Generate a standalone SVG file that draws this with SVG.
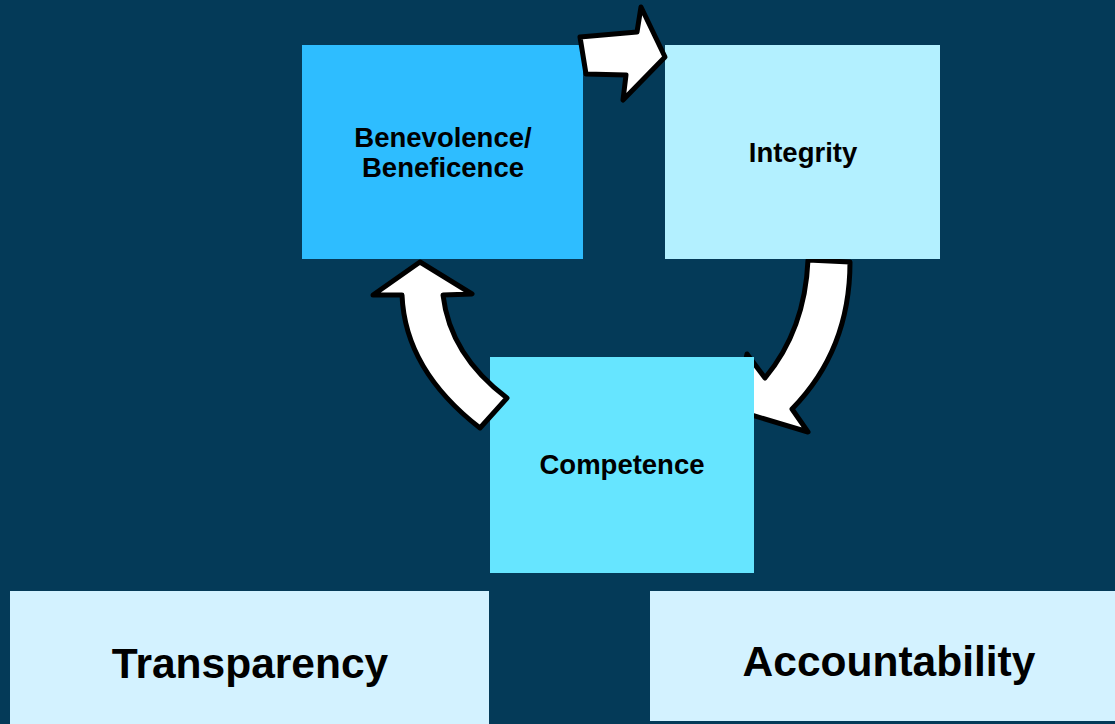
<svg xmlns="http://www.w3.org/2000/svg" width="1115" height="724" viewBox="0 0 1115 724">
<style>
.lbl{font-family:"Liberation Sans",Arial,sans-serif;font-weight:bold;fill:#000;text-anchor:middle}
.s{font-size:27.5px}
.b{font-size:42.5px}
.arr{fill:#fff;stroke:#000;stroke-width:5;stroke-linejoin:round}
</style>
<rect width="1115" height="724" fill="#043A58"/>
<g id="connectors-back">
<path class="arr" d="M808,260 L850,262 Q850,350 792,409 L808,432 L735,410 L747,354 L765,378 Q805,330 808,260 Z"/>
</g>
<g id="node-benevolence">
<rect x="302" y="45" width="281" height="214" fill="#2EBDFF"/>
<text class="lbl s" x="443" y="147">Benevolence/</text>
<text class="lbl s" x="443" y="177">Beneficence</text>
</g>
<g id="node-integrity">
<rect x="665" y="45" width="275" height="214" fill="#B3F0FF"/>
<text class="lbl s" x="803" y="162">Integrity</text>
</g>
<g id="node-competence">
<rect x="490" y="357" width="264" height="216" fill="#66E5FF"/>
<text class="lbl s" x="622" y="474">Competence</text>
</g>
<g id="node-transparency">
<rect x="10" y="591" width="479" height="133" fill="#D3F2FF"/>
<text class="lbl b" x="250" y="678">Transparency</text>
</g>
<g id="node-accountability">
<rect x="650" y="591" width="465" height="130" fill="#D3F2FF"/>
<text class="lbl b" x="889" y="676">Accountability</text>
</g>
<g id="connectors">
<path class="arr" d="M580,37 L637,32 L641,7 L665,57 L623,100 L626,75 L586,74 Z"/>
<path class="arr" d="M420,262 L472,294 L443,295 Q450,355 507,398 L480,428 Q405,370 402,295 L373,295 Z"/>
</g>
</svg>
